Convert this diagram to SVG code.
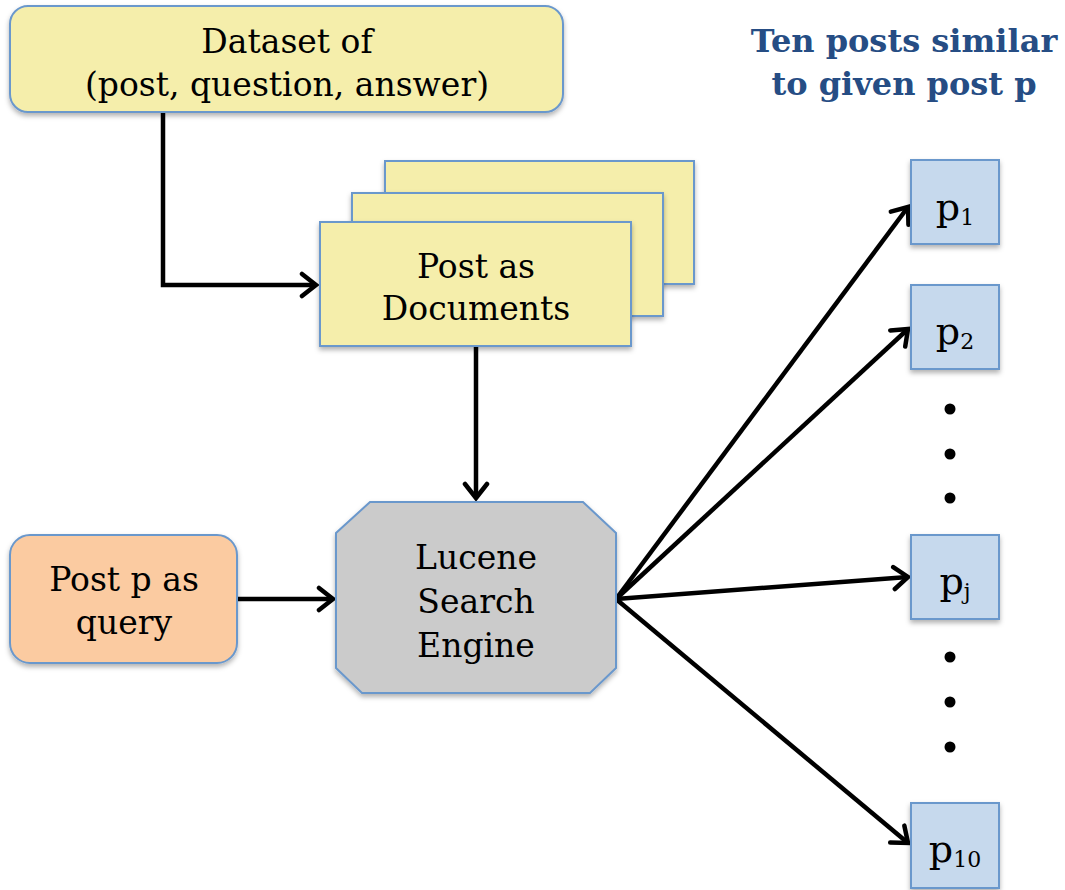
<svg xmlns="http://www.w3.org/2000/svg" width="1065" height="890" viewBox="0 0 1065 890">
<style>
.t{font-family:"DejaVu Serif","Liberation Serif",serif;font-size:33px;fill:#000;text-anchor:middle}
.ttl{font-family:"DejaVu Serif","Liberation Serif",serif;font-size:32px;font-weight:bold;fill:#264d84;text-anchor:middle}
.y{fill:#f5eeab;stroke:#6b98cc;stroke-width:2}
.o{fill:#fbcba1;stroke:#6b98cc;stroke-width:2}
.g{fill:#cbcbcb;stroke:#6b98cc;stroke-width:2}
.b{fill:#c6d9ed;stroke:#6b98cc;stroke-width:2}
.c{fill:none;stroke:#000;stroke-width:4.5;marker-end:url(#ah)}
.p{font-size:38px}
.sub{font-size:22px}
</style>
<defs>
<marker id="ah" markerUnits="userSpaceOnUse" markerWidth="28" markerHeight="28" viewBox="-16 -14 20 28" refX="0" refY="0" orient="auto">
<path d="M-14,-11 L0,0 L-14,11" fill="none" stroke="#000" stroke-width="4.5" stroke-linecap="round" stroke-linejoin="miter"/>
</marker>
<filter id="sh" x="-10%" y="-10%" width="120%" height="130%">
<feDropShadow dx="0" dy="3" stdDeviation="2.5" flood-color="#000" flood-opacity="0.3"/>
</filter>
</defs>
<rect width="1065" height="890" fill="#fff"/>
<g id="connectors">
<path class="c" d="M163,112 V285 H316"/>
<path class="c" d="M476,346 V498"/>
<path class="c" d="M237,599 H333"/>
<path class="c" d="M616,599 L908,207"/>
<path class="c" d="M616,599 L908,329"/>
<path class="c" d="M616,599 L908,577"/>
<path class="c" d="M616,599 L908,843"/>
</g>
<g id="dataset">
<rect class="y" x="10" y="6" width="553" height="106" rx="18" filter="url(#sh)"/>
<text class="t" x="287" y="53">Dataset of</text>
<text class="t" x="287" y="96">(post, question, answer)</text>
</g>
<g id="documents">
<rect class="y" x="385" y="161" width="309" height="123" filter="url(#sh)"/>
<rect class="y" x="352" y="193" width="311" height="123" filter="url(#sh)"/>
<rect class="y" x="320" y="222" width="311" height="124" filter="url(#sh)"/>
<text class="t" x="476" y="278">Post as</text>
<text class="t" x="476" y="320">Documents</text>
</g>
<g id="engine">
<polygon class="g" points="370,502 583,502 616,533 616,668 590,693 362,693 336,668 336,533" filter="url(#sh)"/>
<text class="t" x="476" y="569">Lucene</text>
<text class="t" x="476" y="613">Search</text>
<text class="t" x="476" y="657">Engine</text>
</g>
<g id="query">
<rect class="o" x="10" y="535" width="227" height="128" rx="20" filter="url(#sh)"/>
<text class="t" x="124" y="591">Post p as</text>
<text class="t" x="124" y="634">query</text>
</g>
<g id="title">
<text class="ttl" x="904" y="52">Ten posts similar</text>
<text class="ttl" x="904" y="95">to given post p</text>
</g>
<g id="p1">
<rect class="b" x="911" y="160" width="88" height="84" filter="url(#sh)"/>
<text class="t p" x="955" y="220">p<tspan class="sub" dy="5">1</tspan></text>
</g>
<g id="p2">
<rect class="b" x="911" y="285" width="88" height="84" filter="url(#sh)"/>
<text class="t p" x="955" y="344">p<tspan class="sub" dy="5">2</tspan></text>
</g>
<g id="pj">
<rect class="b" x="911" y="535" width="88" height="84" filter="url(#sh)"/>
<text class="t p" x="955" y="594">p<tspan class="sub" dy="5">j</tspan></text>
</g>
<g id="p10">
<rect class="b" x="911" y="803" width="88" height="85" filter="url(#sh)"/>
<text class="t p" x="955" y="862">p<tspan class="sub" dy="5">10</tspan></text>
</g>
<g id="dots" fill="#000">
<circle cx="950" cy="409" r="5.5"/>
<circle cx="950" cy="454" r="5.5"/>
<circle cx="950" cy="498" r="5.5"/>
<circle cx="950" cy="657" r="5.5"/>
<circle cx="950" cy="702" r="5.5"/>
<circle cx="950" cy="747" r="5.5"/>
</g>
</svg>
